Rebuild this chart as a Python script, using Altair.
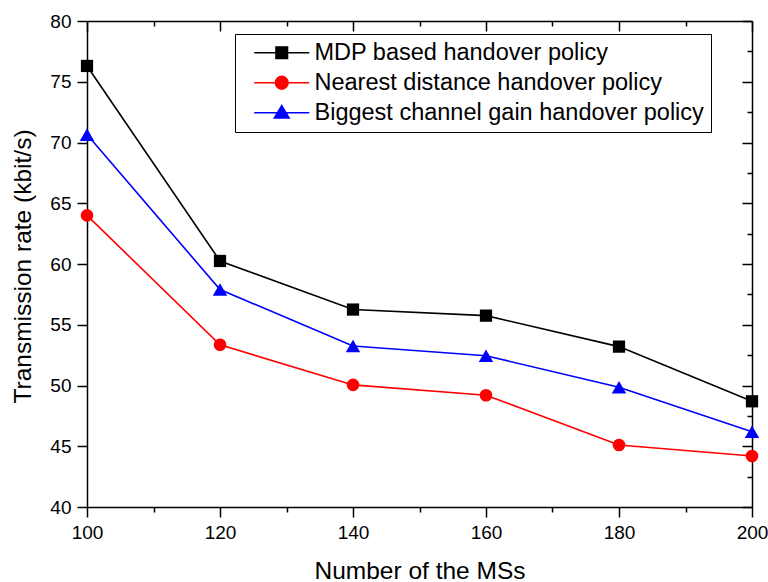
import altair as alt
import pandas as pd

ms = [100, 120, 140, 160, 180, 200]
mdp = [76.3, 60.25, 56.25, 55.75, 53.2, 48.7]
nearest = [64.0, 53.35, 50.05, 49.2, 45.1, 44.2]
biggest = [70.65, 57.9, 53.25, 52.45, 49.85, 46.2]

series = ["MDP based handover policy",
          "Nearest distance handover policy",
          "Biggest channel gain handover policy"]
colors = ["#000000", "#ff0000", "#0000ff"]
shapes = ["square", "circle", "triangle-up"]
marker_sizes = [150, 160, 210]
legend_shapes = [
    "M-2.75,0H2.75M-0.58,-0.58H0.58V0.58H-0.58Z",
    "M-2.75,0H2.75M0.64,0A0.64,0.64,0,1,1,-0.64,0A0.64,0.64,0,1,1,0.64,0Z",
    "M-2.75,0H2.75M0,-0.72L0.74,0.52H-0.74Z",
]

x_ticks = list(range(100, 201, 10))
y_ticks = [40 + 2.5 * i for i in range(17)]

rows = []
for name, vals in zip(series, [mdp, nearest, biggest]):
    for m, v in zip(ms, vals):
        rows.append({"ms": m, "rate": v, "series": name})
df = pd.DataFrame(rows)

FONT = "Liberation Sans"

xscale = alt.Scale(domain=[100, 200], nice=False, zero=False)
yscale = alt.Scale(domain=[40, 80], nice=False, zero=False)
cscale = alt.Scale(domain=series, range=colors)

x_axis = alt.Axis(
    values=x_ticks, title="Number of the MSs", grid=False,
    labelExpr="datum.value % 20 === 0 ? datum.label : ''",
    tickSize={"condition": {"test": "datum.value % 20 === 0", "value": 10}, "value": 5},
    labelPadding=6, labelFontSize=19, labelFont=FONT, labelColor="black",
    titleFont=FONT, titleFontSize=24.5, titleFontWeight="normal", titleColor="black",
    titleBaseline="alphabetic", titleY=71,
    domainColor="black", domainWidth=1.5, tickColor="black", tickWidth=1.5,
    labelFlush=False, labelOverlap=False,
)
y_axis = alt.Axis(
    values=y_ticks, title="Transmission rate (kbit/s)", grid=False,
    labelExpr="datum.value % 5 === 0 ? datum.label : ''",
    tickSize={"condition": {"test": "datum.value % 5 === 0", "value": 10}, "value": 5},
    labelPadding=6, labelFontSize=19, labelFont=FONT, labelColor="black",
    titleFont=FONT, titleFontSize=24.5, titleFontWeight="normal", titleColor="black",
    titleBaseline="alphabetic", titleX=-57, titleY=245, titleAngle=-90,
    domainColor="black", domainWidth=1.5, tickColor="black", tickWidth=1.5,
    labelFlush=False, labelOverlap=False,
)

base = alt.Chart(df)

lines = base.mark_line(strokeWidth=1.6).encode(
    x=alt.X("ms:Q", scale=xscale, axis=x_axis),
    y=alt.Y("rate:Q", scale=yscale, axis=y_axis),
    color=alt.Color("series:N", scale=cscale, legend=None),
    detail="series:N",
)
point_layers = []
for name, shp, sz in zip(series, shapes, marker_sizes):
    point_layers.append(
        base.transform_filter(alt.datum.series == name)
        .mark_point(filled=True, opacity=1, size=sz, shape=shp)
        .encode(
            x=alt.X("ms:Q", scale=xscale),
            y=alt.Y("rate:Q", scale=yscale),
            color=alt.Color("series:N", scale=cscale, legend=None),
        )
    )
inner = alt.layer(lines, *point_layers)

top_axis = alt.Axis(
    orient="top", values=x_ticks, labels=False, title=None, grid=False,
    tickSize={"condition": {"test": "datum.value % 20 === 0", "value": -10}, "value": -5},
    domainColor="black", domainWidth=1.5, tickColor="black", tickWidth=1.5,
)
right_axis = alt.Axis(
    orient="right", values=y_ticks, labels=False, title=None, grid=False,
    tickSize={"condition": {"test": "datum.value % 5 === 0", "value": -10}, "value": -5},
    domainColor="black", domainWidth=1.5, tickColor="black", tickWidth=1.5,
)

def make_legend():
    return alt.Legend(
        title=None, orient="none", legendX=148, legendY=13,
        labelFont=FONT, labelFontSize=23.5, labelColor="black",
        symbolSize=400, symbolOffset=28, labelOffset=21, padding=7, rowPadding=5,
        symbolStrokeWidth=1.5, symbolOpacity=1,
        strokeColor="black", fillColor="white", labelLimit=600,
    )

legend_layer = base.mark_point(filled=True, size=400, strokeWidth=1.5, opacity=0).encode(
    x=alt.X("ms:Q", scale=xscale, axis=top_axis),
    y=alt.Y("rate:Q", scale=yscale, axis=right_axis),
    fill=alt.Fill("series:N", scale=cscale, legend=make_legend()),
    stroke=alt.Stroke("series:N", scale=cscale, legend=make_legend()),
    shape=alt.Shape("series:N", scale=alt.Scale(domain=series, range=legend_shapes), legend=make_legend()),
)

chart = alt.layer(inner, legend_layer).resolve_scale(
    x="independent", y="independent",
    fill="independent", stroke="independent", shape="independent",
).properties(
    width=665, height=486,
    autosize=alt.AutoSizeParams(type="none"),
    padding={"left": 87, "top": 21, "right": 16, "bottom": 75},
    background="white",
).configure_view(stroke=None)

chart.save("out.html", embed_options={"renderer": "svg", "actions": False})
